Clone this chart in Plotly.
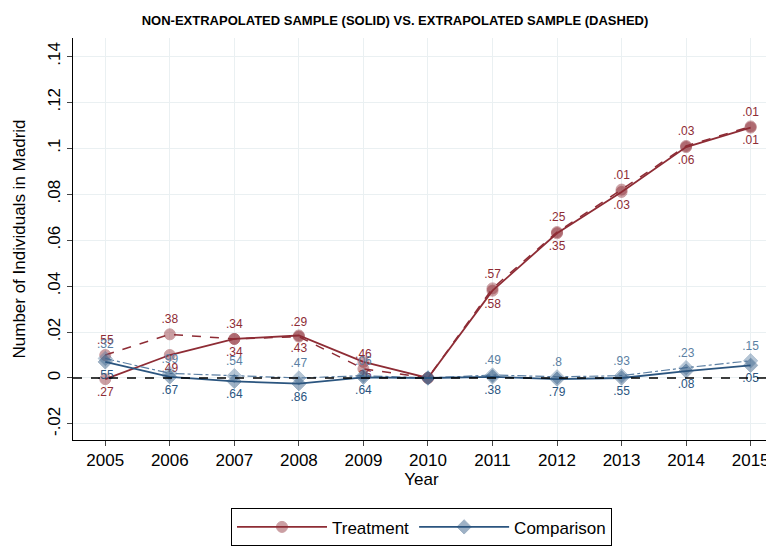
import plotly.graph_objects as go

years = list(range(2005, 2016))
treat_solid = [-0.0005, 0.010, 0.017, 0.0185, 0.007, 0.0, 0.038, 0.063, 0.081, 0.1005, 0.109]
treat_dash = [0.010, 0.019, 0.017, 0.018, 0.004, 0.0, 0.039, 0.0635, 0.082, 0.101, 0.1095]
comp_solid = [0.007, 0.0005, -0.0015, -0.0025, 0.0003, 0.0, 0.0005, -0.0005, 0.0, 0.003, 0.0055]
comp_dash = [0.0085, 0.002, 0.001, 0.0, 0.001, 0.0, 0.0013, 0.0005, 0.001, 0.0045, 0.0075]
treat_up = [".55", ".38", ".34", ".29", ".46", "", ".57", ".25", ".01", ".03", ".01"]
treat_lo = [".27", ".49", ".34", ".43", ".26", "", ".58", ".35", ".03", ".06", ".01"]
comp_up = [".32", ".99", ".54", ".47", ".06", "", ".49", ".8", ".93", ".23", ".15"]
comp_lo = [".55", ".67", ".64", ".86", ".64", "", ".38", ".79", ".55", ".08", ".05"]

RED = "#8e2c35"
BLUE = "#2b557f"
fig = go.Figure()
fig.add_hline(y=0, line=dict(color="black", dash="dash", width=1.5))

def series(y, color, sym, dash, name, show, text, tpos, width):
    fig.add_trace(go.Scatter(
        x=years, y=y, mode="lines+markers+text", name=name, showlegend=show,
        line=dict(color=color, dash=dash, width=width),
        marker=dict(symbol=sym, size=11, color=color, opacity=0.45,
                    line=dict(color=color, width=1)),
        text=text, textposition=tpos, textfont=dict(color=color, size=12, family="Liberation Sans")))

series(treat_dash, RED, "circle", "dash", "Treatment", False, treat_up, "top center", 1.5)
series(treat_solid, RED, "circle", "solid", "Treatment", True, treat_lo, "bottom center", 1.8)
series(comp_dash, "#5b7fa3", "diamond", "dashdot", "Comparison", False, comp_up, "top center", 1.2)
series(comp_solid, BLUE, "diamond", "solid", "Comparison", True, comp_lo, "bottom center", 1.8)

fig.update_layout(
    width=774, height=550, plot_bgcolor="white", paper_bgcolor="white",
    margin=dict(l=65, r=12, t=30, b=88),
    font=dict(family="Liberation Sans", color="black"),
    title=dict(text="<b>NON-EXTRAPOLATED SAMPLE (SOLID) VS. EXTRAPOLATED SAMPLE (DASHED)</b>",
               x=0.5, xanchor="center", y=0.985, font=dict(size=13)),
    xaxis=dict(title=dict(text="Year", font=dict(size=17), standoff=2), range=[2004.5, 2015.3],
               tickvals=years, ticks="outside", tickfont=dict(size=17), showline=True,
               linecolor="black", gridcolor="#eaf0f2", zeroline=False, automargin=False),
    yaxis=dict(title=dict(text="Number of Individuals in Madrid", font=dict(size=17)),
               range=[-0.027, 0.148], tickvals=[-0.02, 0, 0.02, 0.04, 0.06, 0.08, 0.1, 0.12, 0.14],
               ticktext=["-.02", "0", ".02", ".04", ".06", ".08", ".1", ".12", ".14"],
               tickangle=-90, ticks="outside", tickfont=dict(size=17), showline=True,
               linecolor="black", gridcolor="#eaf0f2", zeroline=False, automargin=False),
    legend=dict(orientation="h", x=0.5, xanchor="center", y=-0.17, yanchor="top",
                bordercolor="black", borderwidth=1, font=dict(size=17),
                itemwidth=90),
)
fig.write_html("out.html")
